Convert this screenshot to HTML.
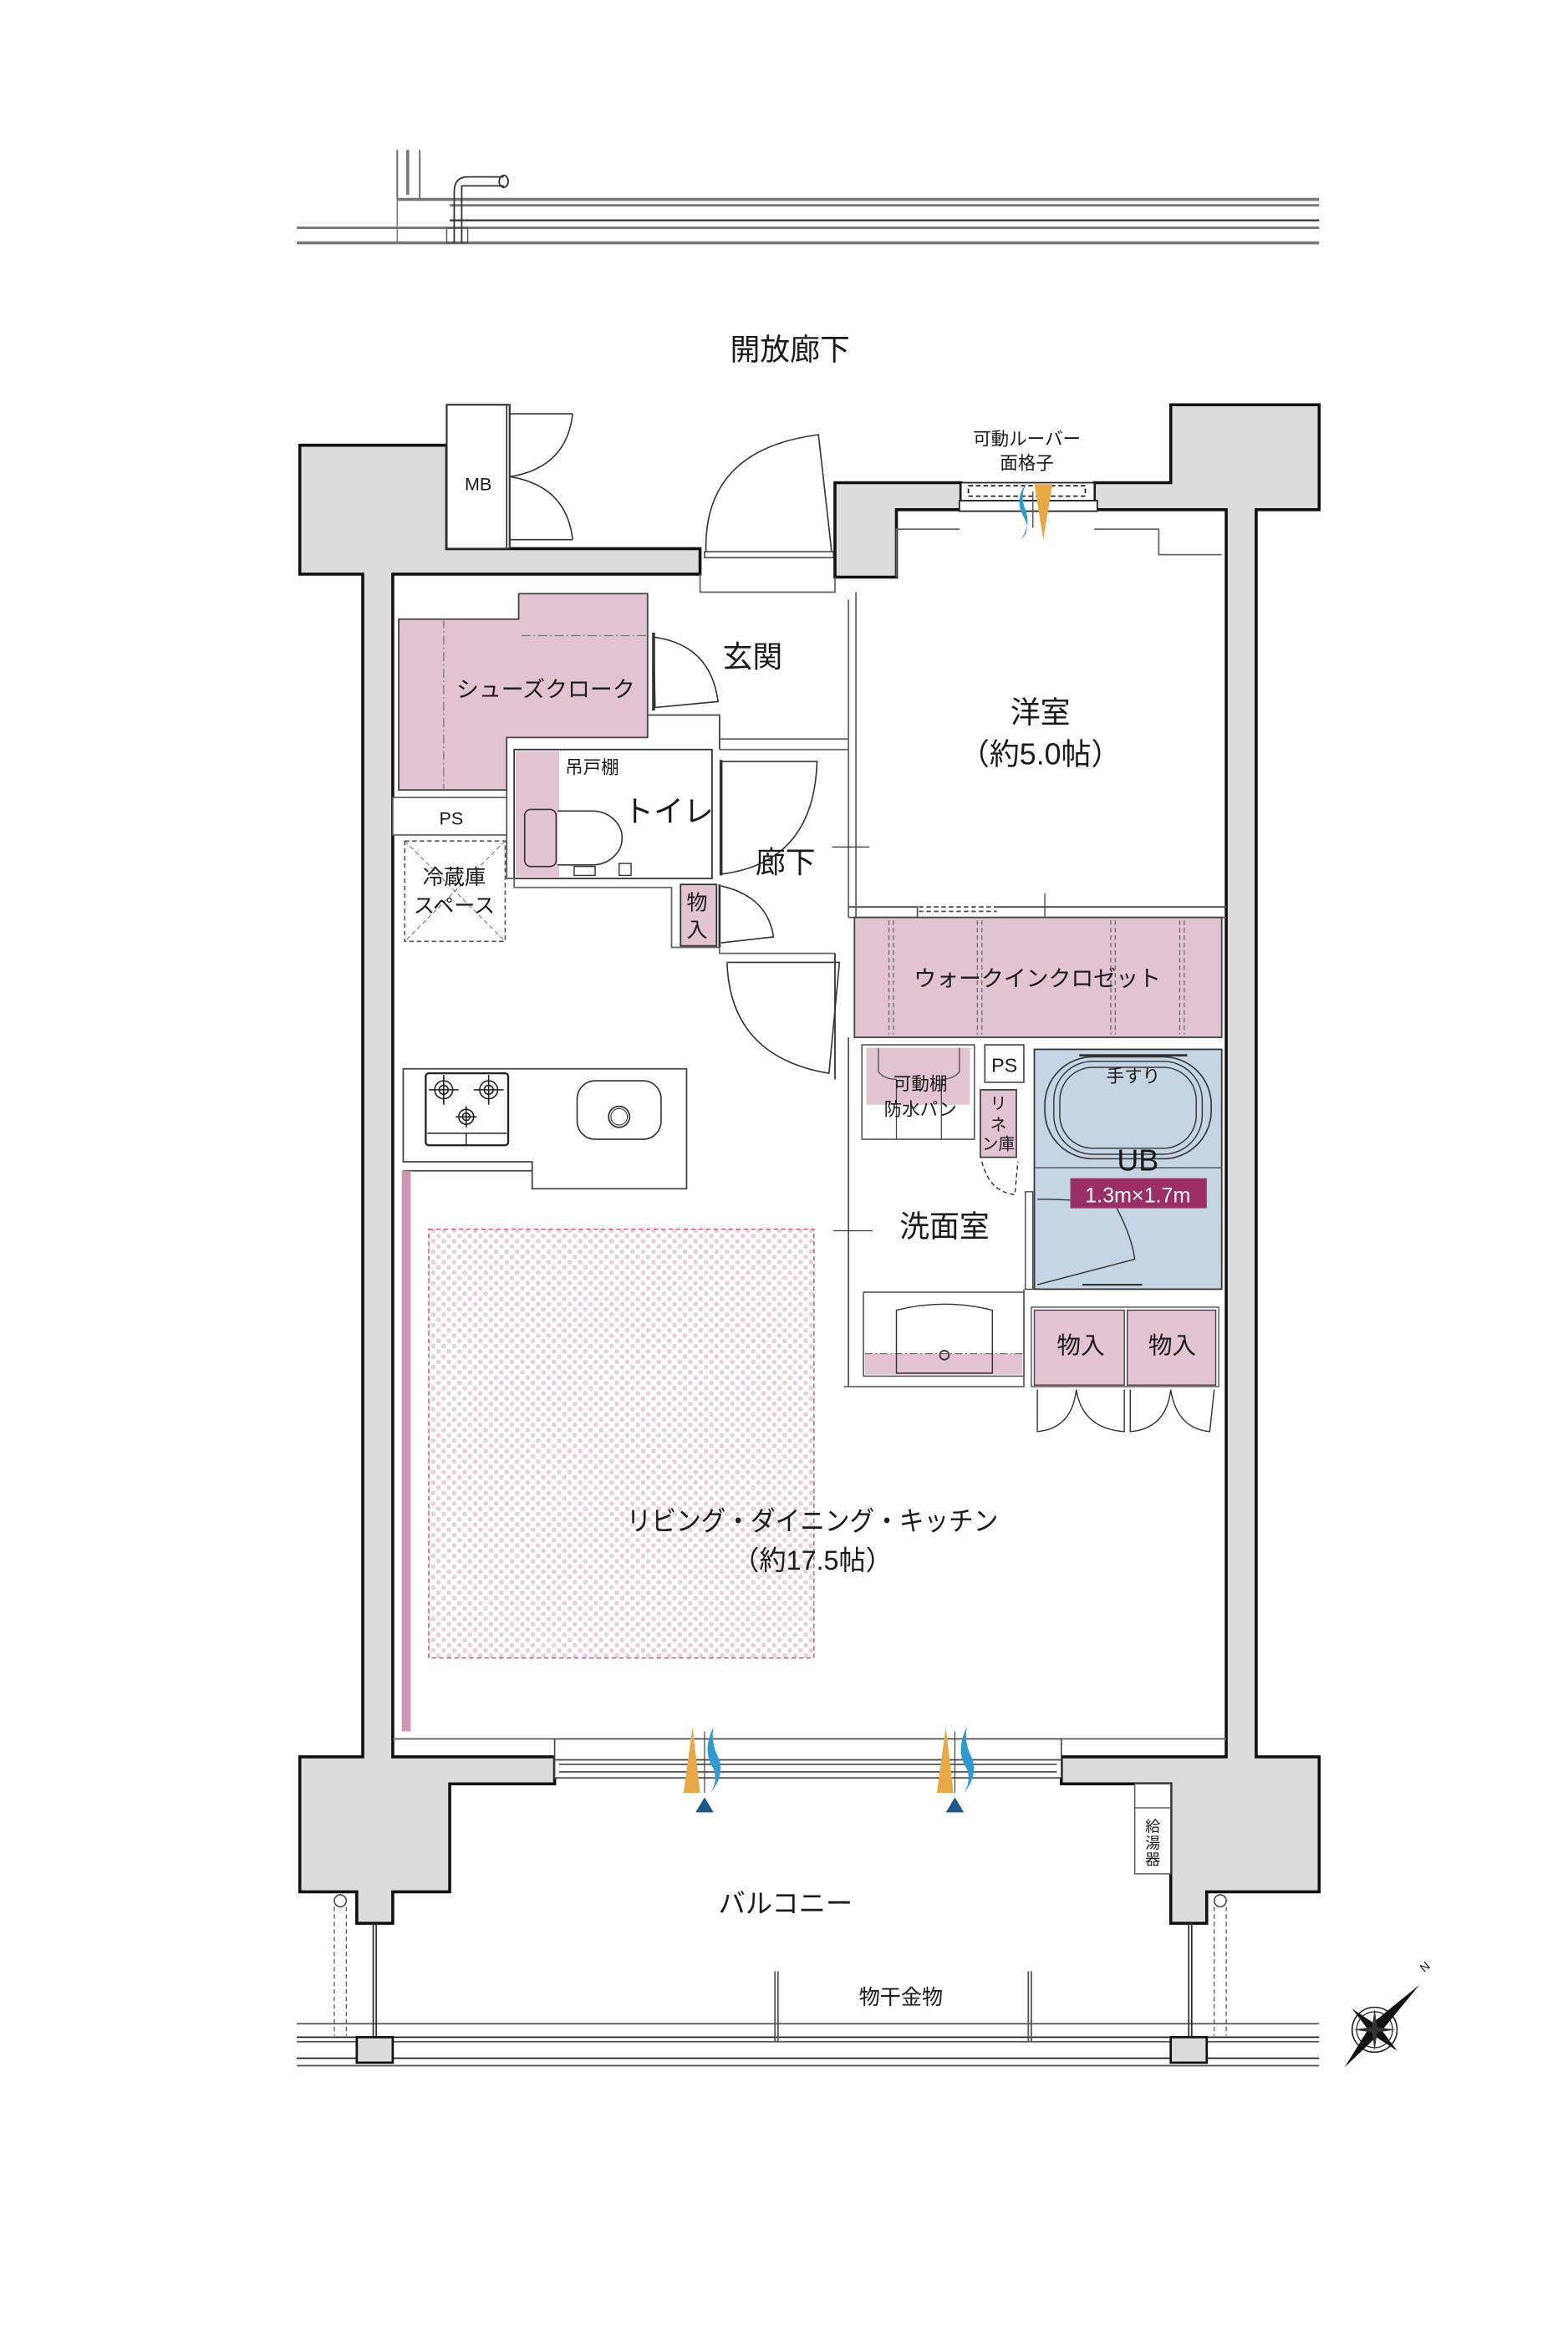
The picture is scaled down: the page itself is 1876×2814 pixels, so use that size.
<!DOCTYPE html>
<html><head><meta charset="utf-8"><style>
html,body{margin:0;padding:0;background:#fff}
svg{display:block}
text{font-family:"Liberation Sans","Noto Sans CJK JP",sans-serif;fill:#1a1a1a}
</style></head><body>
<svg width="1876" height="2814" viewBox="0 0 1046 1569" xmlns="http://www.w3.org/2000/svg">
<defs>
<pattern id="dots" width="7" height="7" patternUnits="userSpaceOnUse">
<circle cx="2" cy="2" r="1.6" fill="#e9cfdb"/><circle cx="5.5" cy="5.5" r="1.6" fill="#e9cfdb"/>
</pattern>
</defs>
<g fill="none" stroke="#777" stroke-width="1.2">
<line x1="265" y1="100" x2="265" y2="133"/><line x1="280" y1="100" x2="280" y2="133"/>
<line x1="272" y1="100" x2="272" y2="130" stroke-width="2"/>
<line x1="265" y1="133" x2="880" y2="133" stroke-width="2"/>
<line x1="300" y1="137" x2="880" y2="137" stroke-width="1.6"/>
<line x1="300" y1="147" x2="880" y2="147" stroke="#333" stroke-width="1.3"/>
<line x1="198" y1="152" x2="880" y2="152" stroke-width="1.6"/>
<line x1="198" y1="162" x2="880" y2="162" stroke-width="2"/>
<line x1="265" y1="133" x2="265" y2="162" stroke-width="0.8"/>
<rect x="298" y="152" width="14" height="10" stroke="#555" stroke-width="0.8"/>
<path d="M303 162 V128 Q303 118 312 118 H336 M308 162 V124 H336" stroke="#333" stroke-width="1"/>
<ellipse cx="336" cy="121" rx="3" ry="4" stroke="#333" stroke-width="1"/>
</g>
<text x="527" y="240" font-size="20" text-anchor="middle">開放廊下</text>

<g fill="#dcdcdc" stroke="#111" stroke-width="2">
<path d="M200 297 H298 V366 H467 V383 H262 V1172 H370 V1190 H300 V1262 H262 V1283 H238 V1262 H200 V1172 H242 V383 H200 Z"/>
<path d="M557 385 V322 H641 V340 H598 V385 Z"/>
<path d="M730 322 H781 V270 H880 V322 H880 V340 H838 V1172 H880 V1262 H805 V1283 H781 V1262 H781 V1190 H708 V1172 H818 V340 H730 Z"/>
</g>
<g fill="#fff" stroke="#222" stroke-width="1">
<rect x="641" y="322" width="89" height="12"/>
<rect x="640" y="334" width="92" height="7"/>
<rect x="646" y="324" width="78" height="7" stroke-dasharray="3 2"/>
</g>
<path d="M685 322 Q676 333 683 345 Q688 354 681 360 Q688 350 684 340 Q680 330 685 322Z" fill="#2d9ad3"/>
<path d="M690 323 H702 L696 360 Z" fill="#e8a944"/>
<line x1="689" y1="328" x2="689" y2="352" stroke="#555" stroke-width="0.8"/>
<text x="685" y="297" font-size="12" text-anchor="middle">可動ルーバー</text>
<text x="685" y="313" font-size="12" text-anchor="middle">面格子</text>

<rect x="298" y="270" width="42" height="96" fill="#fff" stroke="#333" stroke-width="1.2"/>
<line x1="338" y1="270" x2="338" y2="366" stroke="#333"/>
<text x="319" y="327" font-size="12" text-anchor="middle">MB</text>
<path d="M340 276 H382 M340 360 H382 M340 318 Q378 312 382 276 M340 318 Q378 324 382 360" fill="none" stroke="#333" stroke-width="0.9"/>

<path d="M471 370 Q468 300 546 290 L555 370 Z" fill="none" stroke="#333" stroke-width="0.9"/>
<rect x="470" y="368" width="86" height="4" fill="#fff" stroke="#333" stroke-width="0.8"/>

<g fill="none" stroke="#666" stroke-width="1">
<path d="M598 385 V353 H640 M730 353 H773 V370 H815 M262 1160 H370 M708 1160 H818"/>
<path d="M571 395 V612 M566 400 V612 M467 383 V395 H557 V385"/>
</g>

<path d="M266 413 H346 V396 H432 V492 H338 V527 H266 Z" fill="#e2c3d1" stroke="#444" stroke-width="1"/>
<line x1="296" y1="413" x2="296" y2="527" stroke="#777" stroke-width="0.7" stroke-dasharray="6 2 1 2"/>
<line x1="348" y1="424" x2="432" y2="424" stroke="#777" stroke-width="0.7" stroke-dasharray="6 2 1 2"/>
<text x="364" y="465" font-size="15" text-anchor="middle">シューズクローク</text>
<path d="M436 425 Q474 430 479 468 L437 472 Z" fill="none" stroke="#333" stroke-width="0.9"/>
<line x1="436" y1="422" x2="436" y2="474" stroke="#333" stroke-width="2"/>
<path d="M432 477 H480 V500" fill="none" stroke="#444"/>
<path d="M480 493 H566 M480 500 H566" stroke="#666" fill="none"/>
<text x="502" y="445" font-size="20" text-anchor="middle">玄関</text>

<rect x="343" y="500" width="132" height="86" fill="#fff" stroke="#333" stroke-width="1"/>
<rect x="344" y="501" width="29" height="84" fill="#e2c3d1"/>
<path d="M372 541 H395 A20 18 0 0 1 395 577 H372" fill="#fff" stroke="#333" stroke-width="0.9"/>
<rect x="350" y="540" width="21" height="38" rx="4" fill="#e2c3d1" stroke="#333" stroke-width="0.9"/>
<rect x="383" y="578" width="14" height="6" fill="#fff" stroke="#333" stroke-width="0.8"/>
<rect x="413" y="576" width="8" height="8" fill="#fff" stroke="#333" stroke-width="0.8"/>
<text x="395" y="516" font-size="12" text-anchor="middle">吊戸棚</text>
<text x="446" y="548" font-size="20" text-anchor="middle">トイレ</text>
<path d="M482 508 H545 Q543 575 482 583" fill="none" stroke="#333" stroke-width="0.9"/>
<line x1="481" y1="507" x2="481" y2="584" stroke="#333" stroke-width="2"/>
<path d="M338 527 V586 H343" fill="none" stroke="#555"/>
<path d="M343 586 V592 H448 V632 H480 V636 H557" fill="none" stroke="#666"/>

<rect x="262" y="532" width="76" height="25" fill="#fff" stroke="#555" stroke-width="0.9"/>
<text x="301" y="550" font-size="12" text-anchor="middle">PS</text>
<rect x="270" y="561" width="67" height="67" fill="none" stroke="#555" stroke-width="0.9" stroke-dasharray="3 2"/>
<path d="M270 561 L337 628 M337 561 L270 628" stroke="#777" stroke-width="0.6" stroke-dasharray="3 2"/>
<text x="303" y="590" font-size="14" text-anchor="middle">冷蔵庫</text>
<text x="303" y="609" font-size="14" text-anchor="middle">スペース</text>

<rect x="454" y="590" width="24" height="41" fill="#e2c3d1" stroke="#333" stroke-width="1"/>
<text x="465" y="607" font-size="14" text-anchor="middle">物</text>
<text x="465" y="625" font-size="14" text-anchor="middle">入</text>
<path d="M481 591 Q512 598 516 625 L481 629" fill="none" stroke="#333" stroke-width="0.9"/>
<line x1="480" y1="590" x2="480" y2="632" stroke="#333" stroke-width="1.5"/>
<text x="524" y="582" font-size="20" text-anchor="middle">廊下</text>
<path d="M555 565 H580" stroke="#333" stroke-width="0.7"/>
<path d="M485 642 H560 L553 716 Q487 705 485 642" fill="none" stroke="#333" stroke-width="0.9"/>
<line x1="557" y1="636" x2="557" y2="720" stroke="#333" stroke-width="1"/>

<text x="694" y="482" font-size="20" text-anchor="middle">洋室</text>
<text x="694" y="510" font-size="20" text-anchor="middle">（約5.0帖）</text>
<path d="M566 605 H612 V612 H566" fill="none" stroke="#555" stroke-width="1"/>
<path d="M613 605 H665 M613 608 H665" stroke="#555" stroke-dasharray="3 2" fill="none"/>
<path d="M665 605 H818 M665 612 H818" stroke="#555" fill="none"/>
<line x1="697" y1="596" x2="697" y2="618" stroke="#333" stroke-width="0.7"/>

<rect x="570" y="612" width="245" height="80" fill="#e2c3d1" stroke="#444" stroke-width="1"/>
<g stroke="#666" stroke-width="0.7" stroke-dasharray="3 2">
<line x1="593" y1="614" x2="593" y2="690"/><line x1="596" y1="614" x2="596" y2="690"/>
<line x1="652" y1="614" x2="652" y2="690"/><line x1="655" y1="614" x2="655" y2="690"/>
<line x1="741" y1="614" x2="741" y2="690"/><line x1="744" y1="614" x2="744" y2="690"/>
<line x1="787" y1="614" x2="787" y2="690"/><line x1="790" y1="614" x2="790" y2="690"/>
</g>
<text x="692" y="658" font-size="15" text-anchor="middle">ウォークインクロゼット</text>

<path d="M566 692 V925" stroke="#555" fill="none"/>
<path d="M563 925 H683 V860" fill="none" stroke="#666"/>
<rect x="575" y="697" width="75" height="63" fill="#fff" stroke="#555" stroke-width="0.9"/>
<rect x="578" y="699" width="69" height="38" fill="#e2c3d1"/>
<path d="M586 699 V715 Q590 720 598 720 M640 699 V715 Q636 720 628 720 M598 720 V760 M628 720 V760" fill="none" stroke="#444" stroke-width="0.7"/>
<text x="614" y="727" font-size="12" text-anchor="middle">可動棚</text>
<text x="614" y="744" font-size="12" text-anchor="middle">防水パン</text>
<rect x="657" y="697" width="26" height="25" fill="#fff" stroke="#444" stroke-width="0.9"/>
<text x="670" y="715" font-size="13" text-anchor="middle">PS</text>
<rect x="654" y="727" width="24" height="45" fill="#e2c3d1" stroke="#444" stroke-width="1"/>
<text x="666" y="740" font-size="11" text-anchor="middle">リ</text>
<text x="666" y="754" font-size="11" text-anchor="middle">ネ</text>
<text x="666" y="767" font-size="11" text-anchor="middle">ン庫</text>
<path d="M655 775 Q660 795 677 797 L679 775" fill="none" stroke="#333" stroke-width="0.8" stroke-dasharray="3 2"/>
<text x="630" y="825" font-size="20" text-anchor="middle">洗面室</text>
<line x1="556" y1="821" x2="582" y2="821" stroke="#333" stroke-width="0.7"/>

<rect x="690" y="700" width="125" height="160" fill="#c6d5e4" stroke="#333" stroke-width="1"/>
<rect x="697" y="705" width="111" height="68" rx="32" fill="none" stroke="#333" stroke-width="0.9"/>
<rect x="703" y="708" width="99" height="62" rx="26" fill="none" stroke="#333" stroke-width="0.8"/>
<rect x="707" y="712" width="91" height="54" rx="22" fill="none" stroke="#333" stroke-width="0.8"/>
<line x1="720" y1="704" x2="792" y2="704" stroke="#333" stroke-width="1.5"/>
<path d="M690 779 H815" stroke="#555" stroke-width="0.8"/>
<text x="756" y="722" font-size="12" text-anchor="middle">手すり</text>
<text x="759" y="781" font-size="20" text-anchor="middle">UB</text>
<path d="M692 800 Q720 800 735 803 M745 806 Q755 825 757 840 L692 857" fill="none" stroke="#333" stroke-width="0.8"/>
<rect x="714" y="786" width="91" height="20" fill="#9c2e66"/>
<text x="759" y="802" font-size="14" text-anchor="middle" style="fill:#fff">1.3m×1.7m</text>
<line x1="722" y1="857" x2="762" y2="857" stroke="#333" stroke-width="1.2"/>
<rect x="684" y="795" width="5" height="65" fill="#fff" stroke="#333" stroke-width="0.7"/>

<rect x="576" y="862" width="107" height="56" fill="#fff" stroke="#555" stroke-width="0.9"/>
<rect x="577" y="903" width="105" height="14" fill="#e2c3d1"/>
<line x1="577" y1="903" x2="682" y2="903" stroke="#666" stroke-width="0.6" stroke-dasharray="5 2 1 2"/>
<path d="M598 916 V874 Q630 866 662 874 V916 Z" fill="none" stroke="#333" stroke-width="0.8"/>
<circle cx="630" cy="904" r="3" fill="none" stroke="#333"/>

<rect x="688" y="872" width="125" height="53" fill="#fff" stroke="#555" stroke-width="0.8"/>
<rect x="690" y="874" width="60" height="50" fill="#e2c3d1" stroke="#444" stroke-width="0.8"/>
<rect x="752" y="874" width="59" height="50" fill="#e2c3d1" stroke="#444" stroke-width="0.8"/>
<text x="721" y="903" font-size="16" text-anchor="middle">物入</text>
<text x="782" y="903" font-size="16" text-anchor="middle">物入</text>
<path d="M692 927 V955 Q715 953 718 927 Q722 953 750 955 V927 M754 927 V955 Q778 953 781 927 Q785 953 807 955 L810 927" fill="none" stroke="#333" stroke-width="0.8"/>

<path d="M269 713 H458 V793 H355 V775 H269 Z" fill="#fff" stroke="#444" stroke-width="1"/>
<path d="M269 781 H355" stroke="#444" fill="none"/>
<rect x="284" y="716" width="55" height="48" rx="2" fill="#fff" stroke="#222" stroke-width="1.3"/>
<line x1="285" y1="756" x2="338" y2="756" stroke="#222" stroke-width="0.8"/>
<line x1="311" y1="756" x2="311" y2="764" stroke="#222" stroke-width="0.8"/>
<g fill="none" stroke="#222" stroke-width="0.9">
<circle cx="296" cy="727" r="6"/><circle cx="296" cy="727" r="3"/>
<circle cx="326" cy="727" r="6"/><circle cx="326" cy="727" r="3"/>
<circle cx="311" cy="745" r="5"/><circle cx="311" cy="745" r="2.5"/>
<path d="M296 717 V737 M286 727 H306 M326 717 V737 M316 727 H336 M311 738 V752 M304 745 H318"/>
</g>
<rect x="385" y="721" width="56" height="39" rx="12" fill="#fff" stroke="#333" stroke-width="0.9"/>
<circle cx="413" cy="745" r="7" fill="none" stroke="#333"/><circle cx="413" cy="745" r="5.5" fill="none" stroke="#333" stroke-width="0.6"/>

<rect x="268" y="781" width="6" height="374" fill="#cc97b1"/>
<rect x="286" y="820" width="257" height="286" fill="url(#dots)" stroke="#c9557f" stroke-width="0.8" stroke-dasharray="3 2"/>
<text x="418" y="1021" font-size="18" textLength="248" lengthAdjust="spacingAndGlyphs">リビング・ダイニング・キッチン</text>
<text x="542" y="1047" font-size="18" text-anchor="middle">（約17.5帖）</text>

<g fill="#fff" stroke="#444" stroke-width="0.9">
<rect x="370" y="1160" width="338" height="14"/>
<rect x="370" y="1174" width="338" height="12"/>
<line x1="373" y1="1177" x2="705" y2="1177"/>
<line x1="373" y1="1182" x2="705" y2="1182"/>
</g>
<path d="M456 1196 L462 1152 L467 1196Z" fill="#e8a944"/>
<path d="M476 1152 Q468 1168 476 1180 Q479 1188 474 1196 Q484 1184 479 1172 Q474 1162 476 1152Z" fill="#2d9ad3"/>
<path d="M464 1209 L470 1199 L476 1209Z" fill="#1a5a8a"/>
<path d="M625 1196 L631 1152 L636 1196Z" fill="#e8a944"/>
<path d="M645 1152 Q637 1168 645 1180 Q648 1188 643 1196 Q653 1184 648 1172 Q643 1162 645 1152Z" fill="#2d9ad3"/>
<path d="M631 1209 L637 1199 L643 1209Z" fill="#1a5a8a"/>
<line x1="470" y1="1155" x2="470" y2="1196" stroke="#333" stroke-width="0.6"/>
<line x1="637" y1="1155" x2="637" y2="1196" stroke="#333" stroke-width="0.6"/>

<rect x="757" y="1190" width="24" height="60" fill="#fff" stroke="#555" stroke-width="0.8"/>
<line x1="757" y1="1206" x2="781" y2="1206" stroke="#555" stroke-width="0.8"/>
<text x="769" y="1222" font-size="10" text-anchor="middle">給</text>
<text x="769" y="1233" font-size="10" text-anchor="middle">湯</text>
<text x="769" y="1244" font-size="10" text-anchor="middle">器</text>
<text x="524" y="1276" font-size="18" text-anchor="middle">バルコニー</text>
<text x="601" y="1337" font-size="14" text-anchor="middle">物干金物</text>
<g fill="none" stroke="#555" stroke-width="1">
<line x1="198" y1="1350" x2="880" y2="1350"/>
<line x1="198" y1="1359" x2="880" y2="1359" stroke="#222"/>
<line x1="198" y1="1362" x2="238" y2="1362"/><line x1="262" y1="1362" x2="781" y2="1362"/><line x1="805" y1="1362" x2="880" y2="1362"/>
<line x1="198" y1="1373" x2="238" y2="1373" stroke="#222"/><line x1="262" y1="1373" x2="781" y2="1373" stroke="#222"/><line x1="805" y1="1373" x2="880" y2="1373" stroke="#222"/>
<line x1="198" y1="1378" x2="880" y2="1378"/>
<line x1="517" y1="1315" x2="517" y2="1362"/><line x1="519" y1="1315" x2="519" y2="1362"/>
<line x1="686" y1="1315" x2="686" y2="1362"/><line x1="688" y1="1315" x2="688" y2="1362"/>
<line x1="249" y1="1283" x2="249" y2="1359" stroke="#333"/><line x1="251" y1="1283" x2="251" y2="1359" stroke="#333"/>
<line x1="793" y1="1283" x2="793" y2="1359" stroke="#333"/><line x1="795" y1="1283" x2="795" y2="1359" stroke="#333"/>
<path d="M223 1272 V1358 M231 1272 V1358 M810 1272 V1358 M818 1272 V1358" stroke-dasharray="3 2" stroke-width="0.7"/>
<circle cx="227" cy="1268" r="4"/><circle cx="814" cy="1268" r="4"/>
</g>
<rect x="238" y="1359" width="24" height="17" fill="#dcdcdc" stroke="#111" stroke-width="1.5"/>
<rect x="781" y="1359" width="24" height="17" fill="#dcdcdc" stroke="#111" stroke-width="1.5"/>

<g transform="translate(917,1354)">
<circle r="15" fill="none" stroke="#222" stroke-width="0.9"/><circle r="12" fill="none" stroke="#222" stroke-width="0.7"/>
<path d="M-20 25 L30 -30 L2 4 Z M-20 25 L-2 -4 L30 -30 Z" fill="#111"/>
<path d="M-15 -14 L15 14 L3 -2Z M-15 -14 L-2 3 L15 14Z" fill="#111"/>
<path d="M0 -14 L2 0 L0 14 L-2 0Z M-14 0 L0 -2 L14 0 L0 2Z" fill="#333"/>
<text x="33" y="-38" font-size="8" transform="rotate(-40 33 -38)">N</text>
</g>
</svg>
</body></html>
